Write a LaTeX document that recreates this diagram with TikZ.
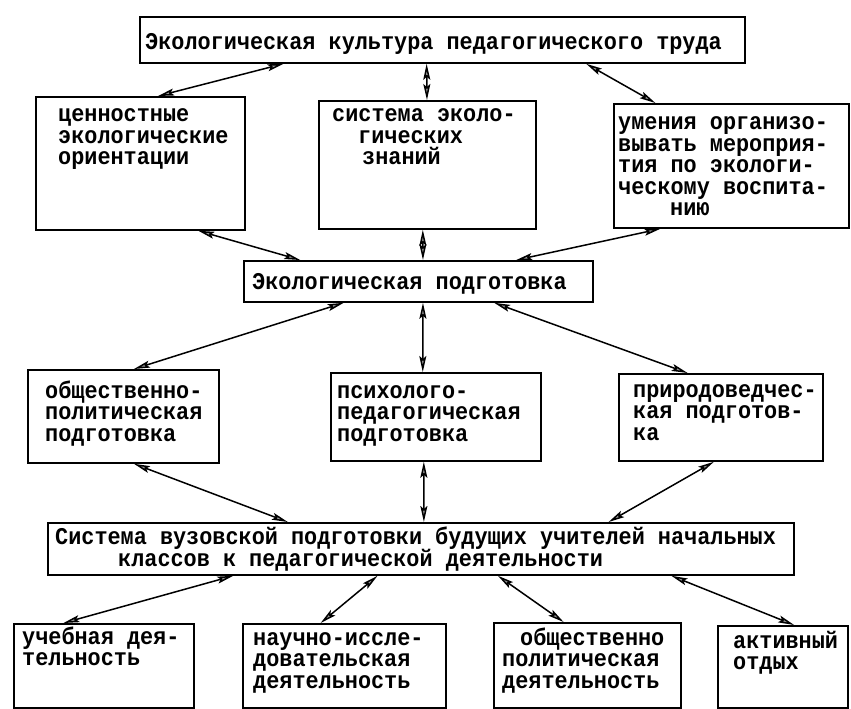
\documentclass[tikz,border=0pt]{standalone}
\usepackage{fontspec}
\newfontfamily\tw[FakeStretch=0.91]{Liberation Mono}
\usetikzlibrary{arrows.meta,calc}
\newcommand\LL[1]{\vtop{\lineskiplimit=-100pt\lineskip=0pt\halign{##\hfil\cr#1\crcr}}}
\tikzset{
  box/.style={draw, line width=1.8pt, inner sep=0pt, anchor=north west},
  txt/.style={inner sep=0pt, anchor=base west, font=\tw\bfseries\fontsize{24}{21.5}\selectfont},
  con/.style={line width=1.5pt, >={Stealth[length=16pt,width=7pt,inset=3pt,fill=black!40]}, <->}
}
\begin{document}
\begin{tikzpicture}[x=1pt,y=-1pt]
\useasboundingbox (0,0) rectangle (851,709);
% boxes
\node[box, minimum width=605pt, minimum height=46pt] (T) at (139,16) {};
\node[box, minimum width=209pt, minimum height=133pt] (L1) at (35,96) {};
\node[box, minimum width=217pt, minimum height=128pt] (M1) at (318,100) {};
\node[box, minimum width=235pt, minimum height=124pt] (R1) at (613,103) {};
\node[box, minimum width=349pt, minimum height=41pt] (P) at (243,260) {};
\node[box, minimum width=191pt, minimum height=93pt] (L2) at (27,369) {};
\node[box, minimum width=210pt, minimum height=88pt] (M2) at (330,372) {};
\node[box, minimum width=204pt, minimum height=87pt] (R2) at (618,373) {};
\node[box, minimum width=746pt, minimum height=52pt] (S) at (47,522) {};
\node[box, minimum width=180pt, minimum height=84pt] (B1) at (13,623) {};
\node[box, minimum width=203pt, minimum height=84pt] (B2) at (242,623) {};
\node[box, minimum width=187pt, minimum height=85pt] (B3) at (493,622) {};
\node[box, minimum width=130pt, minimum height=82pt] (B4) at (717,625) {};
% texts
\node[txt] (tT) at (145,49) {Экологическая культура педагогического труда};
\node[txt] (tL1) at (58,121.5) {\LL{ценностные\cr экологические\cr ориентации}};
\node[txt] (tM1) at (332,121.5) {\LL{система эколо-\cr \kern26pt гических\cr \kern30pt знаний}};
\node[txt] (tR1) at (618,129.5) {\LL{умения организо-\cr вывать мероприя-\cr тия по экологи-\cr ческому воспита-\cr \kern52pt нию}};
\node[txt] (tP) at (252,289) {Экологическая подготовка};
\node[txt] (tL2) at (45,398) {\LL{общественно-\cr политическая\cr подготовка}};
\node[txt] (tM2) at (337,398) {\LL{психолого-\cr педагогическая\cr подготовка}};
\node[txt] (tR2) at (633,397) {\LL{природоведчес-\cr кая подготов-\cr ка}};
\node[txt] (tS) at (55,544.5) {\LL{Система вузовской подготовки будущих учителей начальных\cr \kern63pt классов к педагогической деятельности}};
\node[txt] (tB1) at (22,644) {\LL{учебная дея-\cr тельность}};
\node[txt] (tB2) at (253,645) {\LL{научно-иссле-\cr довательская\cr деятельность}};
\node[txt] (tB3) at (502,645) {\LL{\kern18pt общественно\cr политическая\cr деятельность}};
\node[txt] (tB4) at (733,648) {\LL{активный\cr отдых}};
% connectors
\draw[con] ($(T.south west)!0.238!(T.south east)$) -- ($(L1.north west)!0.584!(L1.north east)$);
\draw[con] ($(T.south west)!0.474!(T.south east)$) -- ($(M1.north west)!0.498!(M1.north east)$);
\draw[con] ($(T.south west)!0.737!(T.south east)$) -- ($(R1.north west)!0.179!(R1.north east)$);
\draw[con] ($(L1.south west)!0.775!(L1.south east)$) -- ($(P.north west)!0.163!(P.north east)$);
\draw[con] ($(M1.south west)!0.479!(M1.south east)$) -- ($(P.north west)!0.513!(P.north east)$);
\draw[con] ($(R1.south west)!0.2!(R1.south east)$) -- ($(P.north west)!0.779!(P.north east)$);
\draw[con] ($(P.south west)!0.287!(P.south east)$) -- ($(L2.north west)!0.555!(L2.north east)$);
\draw[con] ($(P.south west)!0.513!(P.south east)$) -- ($(M2.north west)!0.438!(M2.north east)$);
\draw[con] ($(P.south west)!0.716!(P.south east)$) -- ($(R2.north west)!0.338!(R2.north east)$);
\draw[con] ($(L2.south west)!0.555!(L2.south east)$) -- ($(S.north west)!0.322!(S.north east)$);
\draw[con] ($(M2.south west)!0.443!(M2.south east)$) -- ($(S.north west)!0.504!(S.north east)$);
\draw[con] ($(R2.south west)!0.466!(R2.south east)$) -- ($(S.north west)!0.751!(S.north east)$);
\draw[con] ($(S.south west)!0.249!(S.south east)$) -- ($(B1.north west)!0.278!(B1.north east)$);
\draw[con] ($(S.south west)!0.442!(S.south east)$) -- ($(B2.north west)!0.384!(B2.north east)$);
\draw[con] ($(S.south west)!0.603!(S.south east)$) -- ($(B3.north west)!0.374!(B3.north east)$);
\draw[con] ($(S.south west)!0.835!(S.south east)$) -- ($(B4.north west)!0.585!(B4.north east)$);
\end{tikzpicture}
\end{document}
